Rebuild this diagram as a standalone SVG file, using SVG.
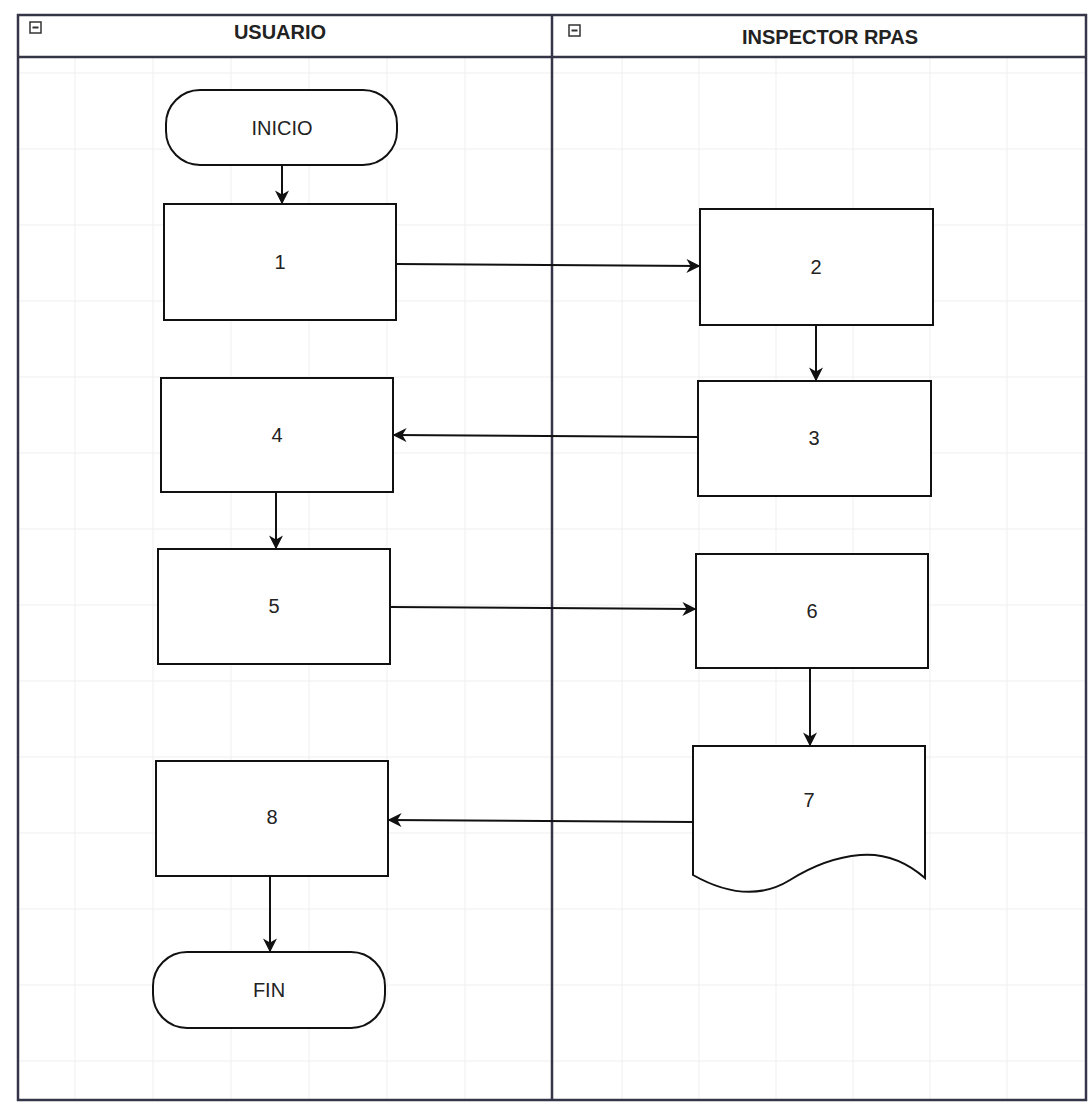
<svg xmlns="http://www.w3.org/2000/svg" width="1090" height="1107" viewBox="0 0 1090 1107">
<defs>
<style>
.grid line{stroke:#efefef;stroke-width:1}
.frame{fill:none;stroke:#35354a;stroke-width:2.5}
.node{fill:#ffffff;stroke:#111111;stroke-width:2}
.lbl{font-family:"Liberation Sans",Arial,sans-serif;font-size:20px;fill:#222222;text-anchor:middle;dominant-baseline:central}
.hdr{font-family:"Liberation Sans",Arial,sans-serif;font-size:20px;font-weight:bold;fill:#222222;text-anchor:middle;dominant-baseline:central}
.edge{fill:none;stroke:#111111;stroke-width:2}
.icon{fill:#ffffff;stroke:#333333;stroke-width:1.5}
</style>
<marker id="arr" viewBox="0 0 10 10" refX="9" refY="5" markerWidth="14" markerHeight="14" markerUnits="userSpaceOnUse" orient="auto">
<path d="M0,0 L10,5 L0,10 L3,5 Z" fill="#111111"/>
</marker>
</defs>
<rect x="0" y="0" width="1090" height="1107" fill="#ffffff"/>
<g class="grid">
<line x1="75" y1="57" x2="75" y2="1100"/><line x1="153" y1="57" x2="153" y2="1100"/><line x1="231" y1="57" x2="231" y2="1100"/><line x1="309" y1="57" x2="309" y2="1100"/><line x1="387" y1="57" x2="387" y2="1100"/><line x1="465" y1="57" x2="465" y2="1100"/>
<line x1="622" y1="57" x2="622" y2="1100"/><line x1="699" y1="57" x2="699" y2="1100"/><line x1="776" y1="57" x2="776" y2="1100"/><line x1="853" y1="57" x2="853" y2="1100"/><line x1="930" y1="57" x2="930" y2="1100"/><line x1="1007" y1="57" x2="1007" y2="1100"/>
<line x1="18" y1="73" x2="1086" y2="73"/><line x1="18" y1="149" x2="1086" y2="149"/><line x1="18" y1="225" x2="1086" y2="225"/><line x1="18" y1="301" x2="1086" y2="301"/><line x1="18" y1="377" x2="1086" y2="377"/><line x1="18" y1="453" x2="1086" y2="453"/><line x1="18" y1="529" x2="1086" y2="529"/><line x1="18" y1="605" x2="1086" y2="605"/><line x1="18" y1="681" x2="1086" y2="681"/><line x1="18" y1="757" x2="1086" y2="757"/><line x1="18" y1="833" x2="1086" y2="833"/><line x1="18" y1="909" x2="1086" y2="909"/><line x1="18" y1="985" x2="1086" y2="985"/><line x1="18" y1="1061" x2="1086" y2="1061"/>
</g>
<g id="pool">
<rect class="frame" x="18" y="15" width="1068" height="1085"/>
<line class="frame" x1="18" y1="57" x2="1086" y2="57"/>
<line class="frame" x1="552" y1="15" x2="552" y2="1100"/>
</g>
<g id="lane-usuario">
<rect class="icon" x="30" y="22" width="11" height="11"/>
<line x1="32.5" y1="27.5" x2="38.5" y2="27.5" stroke="#333" stroke-width="2"/>
<text class="hdr" x="280" y="32">USUARIO</text>
</g>
<g id="lane-inspector">
<rect class="icon" x="569" y="25" width="11" height="11"/>
<line x1="571.5" y1="30.5" x2="577.5" y2="30.5" stroke="#333" stroke-width="2"/>
<text class="hdr" x="830" y="37">INSPECTOR RPAS</text>
</g>
<g id="connectors">
<line class="edge" x1="282" y1="165" x2="282" y2="203" marker-end="url(#arr)"/>
<line class="edge" x1="396" y1="264" x2="699" y2="266" marker-end="url(#arr)"/>
<line class="edge" x1="816" y1="325" x2="816" y2="380" marker-end="url(#arr)"/>
<line class="edge" x1="698" y1="437" x2="394" y2="435" marker-end="url(#arr)"/>
<line class="edge" x1="276" y1="492" x2="276" y2="548" marker-end="url(#arr)"/>
<line class="edge" x1="390" y1="607" x2="695" y2="609" marker-end="url(#arr)"/>
<line class="edge" x1="810" y1="668" x2="810" y2="745" marker-end="url(#arr)"/>
<line class="edge" x1="693" y1="822" x2="389" y2="820" marker-end="url(#arr)"/>
<line class="edge" x1="270" y1="876" x2="270" y2="951" marker-end="url(#arr)"/>
</g>
<g id="inicio">
<rect class="node" x="166" y="90" width="231" height="75" rx="34" ry="34"/>
<text class="lbl" x="282" y="128">INICIO</text>
</g>
<g id="n1">
<rect class="node" x="164" y="204" width="232" height="116"/>
<text class="lbl" x="280" y="262">1</text>
</g>
<g id="n2">
<rect class="node" x="700" y="209" width="233" height="116"/>
<text class="lbl" x="816" y="267">2</text>
</g>
<g id="n3">
<rect class="node" x="698" y="381" width="233" height="115"/>
<text class="lbl" x="814" y="438">3</text>
</g>
<g id="n4">
<rect class="node" x="161" y="378" width="232" height="114"/>
<text class="lbl" x="277" y="435">4</text>
</g>
<g id="n5">
<rect class="node" x="158" y="549" width="232" height="115"/>
<text class="lbl" x="274" y="606">5</text>
</g>
<g id="n6">
<rect class="node" x="696" y="554" width="232" height="114"/>
<text class="lbl" x="812" y="611">6</text>
</g>
<g id="n7">
<path class="node" d="M693,746 L925,746 L925,878 Q895,852 860,855 Q825,858 790,880 Q748,906 693,875 Z"/>
<text class="lbl" x="809" y="800">7</text>
</g>
<g id="n8">
<rect class="node" x="156" y="761" width="232" height="115"/>
<text class="lbl" x="272" y="817">8</text>
</g>
<g id="fin">
<rect class="node" x="153" y="952" width="232" height="76" rx="34" ry="34"/>
<text class="lbl" x="269" y="990">FIN</text>
</g>
</svg>
